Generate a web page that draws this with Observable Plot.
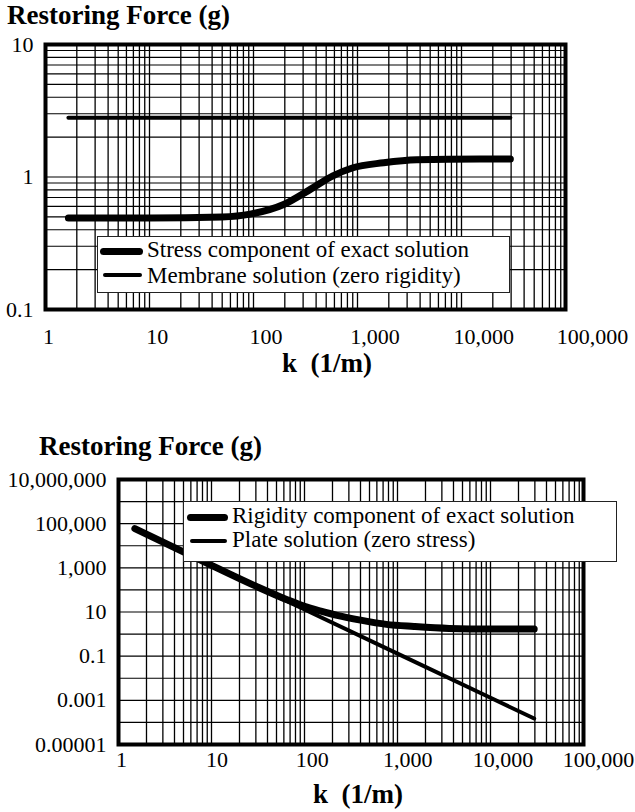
<!DOCTYPE html>
<html>
<head>
<meta charset="utf-8">
<script src="https://cdn.jsdelivr.net/npm/d3@7"></script>
<script src="https://cdn.jsdelivr.net/npm/@observablehq/plot@0.6"></script>
<style>
  body { margin: 0; background: #fff; }
  #c { position: relative; width: 635px; height: 812px; overflow: hidden;
       font-family: "Liberation Serif", "Times New Roman", serif; color: #000; background: #fff; }
  #c svg { position: absolute; left: 0; overflow: visible; }
  .abs { position: absolute; white-space: pre; }
  .title { font-weight: bold; font-size: 27px; line-height: 27px; }
  .box { position: absolute; background: #fff; border: 1px solid #222; box-sizing: border-box; }
  .lt { position: absolute; font-size: 23px; line-height: 23px; white-space: pre; }
  .sw { position: absolute; background: #000; }
</style>
</head>
<body>
<div id="c"></div>
<script>
// ---------- data ----------
const xTicks = [1, 10, 100, 1000, 10000, 100000];
const xTickLabels = ["1", "10", "100", "1,000", "10,000", "100,000"];

const yTicksTop = [0.1, 1, 10];
const yTickLabelsTop = ["0.1", "1", "10"];

const yTicksBottom = [1e-5, 1e-3, 0.1, 10, 1e3, 1e5, 1e7];
const yTickLabelsBottom = ["0.00001", "0.001", "0.1", "10", "1,000", "100,000", "10,000,000"];

// Top chart series
const kStress = [1.66, 10, 50, 93, 195, 355, 580, 890, 1780, 3700, 15000, 29500];
const fStress = [0.49, 0.49, 0.50, 0.525, 0.62, 0.81, 1.02, 1.17, 1.28, 1.35, 1.37, 1.37];
const kMembrane = [1.66, 29500];
const fMembrane = [2.8, 2.8];

// Bottom chart series
const kRigidity = [1.5, 10, 30, 65, 100, 150, 224, 400, 760, 1500, 3600, 10000, 29500];
const fRigidity = [6e4, 1300, 148, 36, 18, 11, 7.1, 4.3, 2.75, 2.2, 1.8, 1.7, 1.7];
const kPlate = [1.5, 10, 100, 1000, 10000, 29500];
const fPlate = [5.8e4, 1300, 13, 0.13, 0.0013, 1.5e-4];

// ---------- helpers ----------
const zip = (ks, fs) => ks.map((k, i) => ({k, f: fs[i]}));
function logGrid(lo, hi) { // log grid values (1..9 per decade) between exponents lo..hi
  const out = [];
  for (let e = lo; e < hi; e++) for (let d = 1; d <= 9; d++) out.push(d * Math.pow(10, e));
  out.push(Math.pow(10, hi));
  return out;
}
function decades(lo, hi) { const out = []; for (let e = lo; e <= hi; e++) out.push(Math.pow(10, e)); return out; }

const FONT = "Liberation Serif, Times New Roman, serif";
const c = document.getElementById("c");

function add(el, top) { el.style.top = top + "px"; c.appendChild(el); return el; }
function div(cls, text, left, top, extra) {
  const d = document.createElement("div");
  d.className = cls; d.textContent = text || "";
  d.style.left = left + "px"; d.style.top = top + "px";
  if (extra) Object.assign(d.style, extra);
  c.appendChild(d); return d;
}

function mainPlot({height, mt, mb, ml, mr, yDomain, gridX, gridY, yTicks, yLabels, series}) {
  const ymap = new Map(yTicks.map((v, i) => [v, yLabels[i]]));
  return Plot.plot({
    width: 635, height,
    marginTop: mt, marginBottom: mb, marginLeft: ml, marginRight: mr,
    x: {type: "log", domain: [1, 1e5], axis: null},
    y: {type: "log", domain: yDomain, label: null},
    style: {fontFamily: FONT, color: "#000", background: "transparent"},
    marks: [
      Plot.ruleX(gridX, {stroke: "#000", strokeWidth: 1.3}),
      Plot.ruleY(gridY, {stroke: "#000", strokeWidth: 1.1}),
      ...series,
      Plot.frame({stroke: "#000", strokeWidth: 4}),
      Plot.axisY(yTicks, {tickSize: 0, tickPadding: 12, fontSize: 22, label: null, tickFormat: d => ymap.get(d)})
    ]
  });
}

function labelPlot(range) {
  const data = xTicks.map((v, i) => ({v, label: xTickLabels[i]}));
  return Plot.plot({
    width: 635, height: 30, margin: 0,
    x: {type: "log", domain: [1, 1e5], range, axis: null},
    style: {fontFamily: FONT, color: "#000", background: "transparent"},
    marks: [Plot.text(data, {x: "v", text: "label", frameAnchor: "middle", fontSize: 22, fill: "#000"})]
  });
}

// ---------- top chart ----------
const topPlot = mainPlot({
  height: 320, mt: 44, mb: 11, ml: 45, mr: 70,
  yDomain: [0.1, 10],
  gridX: logGrid(0, 5), gridY: logGrid(-1, 1),
  yTicks: yTicksTop, yLabels: yTickLabelsTop,
  series: [
    Plot.line(zip(kMembrane, fMembrane), {x: "k", y: "f", stroke: "#000", strokeWidth: 4, strokeLinecap: "round"}),
    Plot.line(zip(kStress, fStress), {x: "k", y: "f", stroke: "#000", strokeWidth: 7, strokeLinecap: "round", curve: "monotone-x"})
  ]
});
add(topPlot, 0);
add(labelPlot([48, 592]), 321);
div("abs title", "Restoring Force (g)", 7, 2.4);
div("abs title", "k  (1/m)", 282, 350.4);

// top legend
div("box", "", 97, 236, {width: "413px", height: "57px"});
div("sw", "", 100, 247.5, {width: "43px", height: "7px", borderRadius: "3.5px"});
div("sw", "", 103, 273, {width: "39px", height: "4px", borderRadius: "2px"});
div("lt", "Stress component of exact solution", 147, 237.7);
div("lt", "Membrane solution (zero rigidity)", 147, 263.7);

// ---------- bottom chart ----------
const botPlot = mainPlot({
  height: 320, mt: 39, mb: 16, ml: 118, mr: 52,
  yDomain: [1e-5, 1e7],
  gridX: logGrid(0, 5), gridY: decades(-5, 7),
  yTicks: yTicksBottom, yLabels: yTickLabelsBottom,
  series: [
    Plot.line(zip(kPlate, fPlate), {x: "k", y: "f", stroke: "#000", strokeWidth: 4, strokeLinecap: "round"}),
    Plot.line(zip(kRigidity, fRigidity), {x: "k", y: "f", stroke: "#000", strokeWidth: 7, strokeLinecap: "round", curve: "monotone-x"})
  ]
});
add(botPlot, 440);
add(labelPlot([121, 598]), 744);
div("abs title", "Restoring Force (g)", 39, 433.4);
div("abs title", "k  (1/m)", 313, 781.4);

// bottom legend
div("box", "", 183, 501, {width: "434px", height: "61px"});
div("sw", "", 187, 513.5, {width: "41px", height: "7px", borderRadius: "3.5px"});
div("sw", "", 190, 539, {width: "37px", height: "4px", borderRadius: "2px"});
div("lt", "Rigidity component of exact solution", 232, 503.7);
div("lt", "Plate solution (zero stress)", 232, 527.7);
</script>
</body>
</html>
